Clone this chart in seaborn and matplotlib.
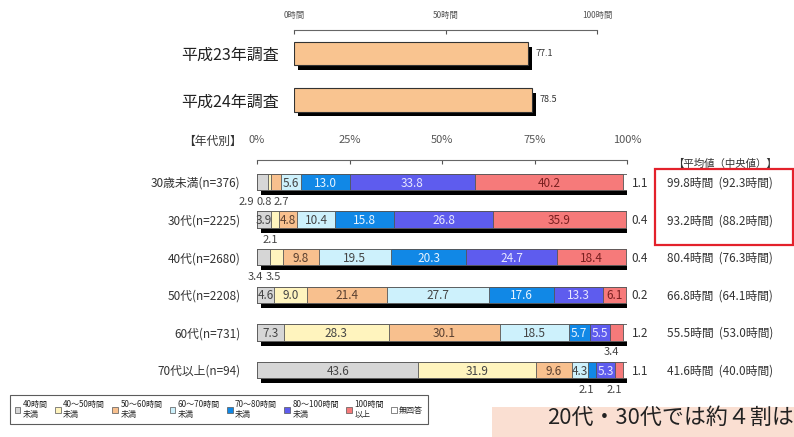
import numpy as np
import matplotlib.pyplot as plt
import matplotlib.patheffects as pe
from matplotlib.patches import Patch, Rectangle
import seaborn as sns

# データ
surveys = ['平成23年調査', '平成24年調査']
survey_hours = [77.1, 78.5]
hour_ticks = ['0時間', '50時間', '100時間']

ages = ['30歳未満(n=376)', '30代(n=2225)', '40代(n=2680)',
        '50代(n=2208)', '60代(n=731)', '70代以上(n=94)']
bands = ['40時間\n未満', '40～50時間\n未満', '50～60時間\n未満', '60～70時間\n未満',
         '70～80時間\n未満', '80～100時間\n未満', '100時間\n以上', '無回答']
under_40 = [2.9, 3.9, 3.4, 4.6, 7.3, 43.6]
h40_50 = [0.8, 2.1, 3.5, 9.0, 28.3, 31.9]
h50_60 = [2.7, 4.8, 9.8, 21.4, 30.1, 9.6]
h60_70 = [5.6, 10.4, 19.5, 27.7, 18.5, 4.3]
h70_80 = [13.0, 15.8, 20.3, 17.6, 5.7, 2.1]
h80_100 = [33.8, 26.8, 24.7, 13.3, 5.5, 5.3]
over_100 = [40.2, 35.9, 18.4, 6.1, 3.4, 2.1]
no_answer = [1.1, 0.4, 0.4, 0.2, 1.2, 1.1]
means = ['99.8時間', '93.2時間', '80.4時間', '66.8時間', '55.5時間', '41.6時間']
medians = ['92.3時間', '88.2時間', '76.3時間', '64.1時間', '53.0時間', '40.0時間']
pct_ticks = ['0%', '25%', '50%', '75%', '100%']

colors = ['#D6D6D6', '#FFF4BE', '#F8C08E', '#CDF1FC', '#1188E6', '#5E5CEE', '#F67A7A', '#FFFFFF']
text_colors = ['#444444', '#444444', '#5a4030', '#444444', '#E8F4FF', '#E8E8FF', '#7a2020', '#333333']

sns.set_style('white')
plt.rcParams['font.family'] = ['Noto Sans CJK JP', 'DejaVu Sans']

W, H = 794, 437
fig = plt.figure(figsize=(W / 100, H / 100), dpi=100)


def box(l, t, r, b):
    return [l / W, 1 - b / H, (r - l) / W, (b - t) / H]


shadow = [pe.SimplePatchShadow(offset=(3, -3.5), shadow_rgbFace='black', alpha=1.0), pe.Normal()]

# 上段: 調査年別
ax1 = fig.add_axes(box(294, 30, 597, 124))
sns.barplot(x=survey_hours, y=surveys, orient='h', color='#F9C490', width=0.5,
            edgecolor='#333333', linewidth=0.8, saturation=1, errorbar=None, ax=ax1)
for p in ax1.patches:
    p.set_path_effects(shadow)
for i, v in enumerate(survey_hours):
    ax1.text(v + 2.6, i, f'{v}', va='center', fontsize=6.5, color='#333333')
ax1.set_xlim(0, 100)
ax1.set_ylim(1.516, -0.505)
ax1.xaxis.tick_top()
ax1.set_xticks([0, 50, 100])
ax1.set_xticklabels(hour_ticks)
ax1.tick_params(axis='x', direction='in', length=3, pad=7, labelsize=6, colors='#555555')
ax1.tick_params(axis='y', length=0, pad=11, labelsize=11.5, labelcolor='#222222')
ax1.set_xlabel('')
ax1.set_ylabel('')
for s in ['bottom', 'left', 'right']:
    ax1.spines[s].set_visible(False)
ax1.spines['top'].set_color('#666666')
ax1.spines['top'].set_linewidth(0.8)

# 下段: 年代別 (累積を広い順に重ねる)
ax2 = fig.add_axes(box(257, 160, 627, 392))
stack = np.array([under_40, h40_50, h50_60, h60_70, h70_80, h80_100, over_100, no_answer])
cum = stack.cumsum(axis=0)
for k in reversed(range(len(stack))):
    sns.barplot(x=cum[k], y=ages, orient='h', color=colors[k], width=0.44,
                edgecolor='#555555', linewidth=0.6, saturation=1, errorbar=None, ax=ax2)
    if k == len(stack) - 1:
        for p in ax2.patches:
            p.set_path_effects(shadow)

for i in range(len(ages)):
    small = []
    for k in range(7):
        v = stack[k][i]
        c = cum[k][i] - v / 2
        if v >= 3.7:
            ax2.text(c, i + 0.03, f'{v:.1f}', ha='center', va='center',
                     fontsize=8.5, color=text_colors[k])
        else:
            small.append((k, c, v))
    # 小さい値はバーの下に並べる
    groups = []
    for item in small:
        if groups and item[0] == groups[-1][-1][0] + 1:
            groups[-1].append(item)
        else:
            groups.append([item])
    for g in groups:
        gc = np.mean([c for _, c, _ in g]) - 1.4
        n = len(g)
        for j, (_, _, v) in enumerate(g):
            ax2.text(gc + (j - (n - 1) / 2) * 4.8, i + 0.53, f'{v:.1f}', ha='center',
                     va='center', fontsize=8, color='#444444')
    ax2.text(101.2, i + 0.03, f'{no_answer[i]}', va='center', fontsize=8.5, color='#333333')
    ax2.text(110.8, i + 0.03, f'{means[i]}  ({medians[i]})', va='center', fontsize=8.5,
             color='#333333')

ax2.text(126.5, -0.47, '【平均値（中央値）】', ha='center', va='center', fontsize=7.5,
         color='#333333')
ax2.set_xlim(0, 100)
ax2.set_ylim(5.585, -0.585)
ax2.xaxis.tick_top()
ax2.set_xticks([0, 25, 50, 75, 100])
ax2.set_xticklabels(pct_ticks)
ax2.tick_params(axis='x', direction='in', length=3, pad=11, labelsize=8, colors='#555555')
ax2.tick_params(axis='y', length=0, pad=12, labelsize=8.5, labelcolor='#333333')
ax2.set_xlabel('')
ax2.set_ylabel('')
for s in ['bottom', 'left', 'right']:
    ax2.spines[s].set_visible(False)
ax2.spines['top'].set_color('#666666')
ax2.spines['top'].set_linewidth(0.8)

fig.text(242 / W, 1 - 141 / H, '【年代別】', ha='right', va='center', fontsize=8.5, color='#333333')

# 赤枠
fig.patches.append(Rectangle(box(655, 169, 793, 245)[:2], 138 / W, 76 / H, transform=fig.transFigure,
                             fill=False, edgecolor='#E3212B', linewidth=1.6))

# 凡例
handles = [Patch(facecolor=c, edgecolor='#555555', linewidth=0.5) for c in colors]
leg = fig.legend(handles=handles, labels=bands, ncol=8, loc='upper left',
                 bbox_to_anchor=(10 / W, 1 - 395 / H), fontsize=5.8, frameon=True,
                 fancybox=False, edgecolor='#333333', handlelength=0.7, handleheight=0.7,
                 handletextpad=0.3, columnspacing=0.9, borderpad=0.6, borderaxespad=0)
leg.get_frame().set_linewidth(0.8)

# コメント枠
fig.patches.append(Rectangle((492 / W, 0), 302 / W, 30 / H, transform=fig.transFigure,
                             facecolor='#FADFD2', edgecolor='none'))
fig.text(547 / W, 1 - 418 / H, '20代・30代では約４割は', ha='left', va='center',
         fontsize=15.8, color='#222222')

fig.savefig('out.png', dpi=100)
